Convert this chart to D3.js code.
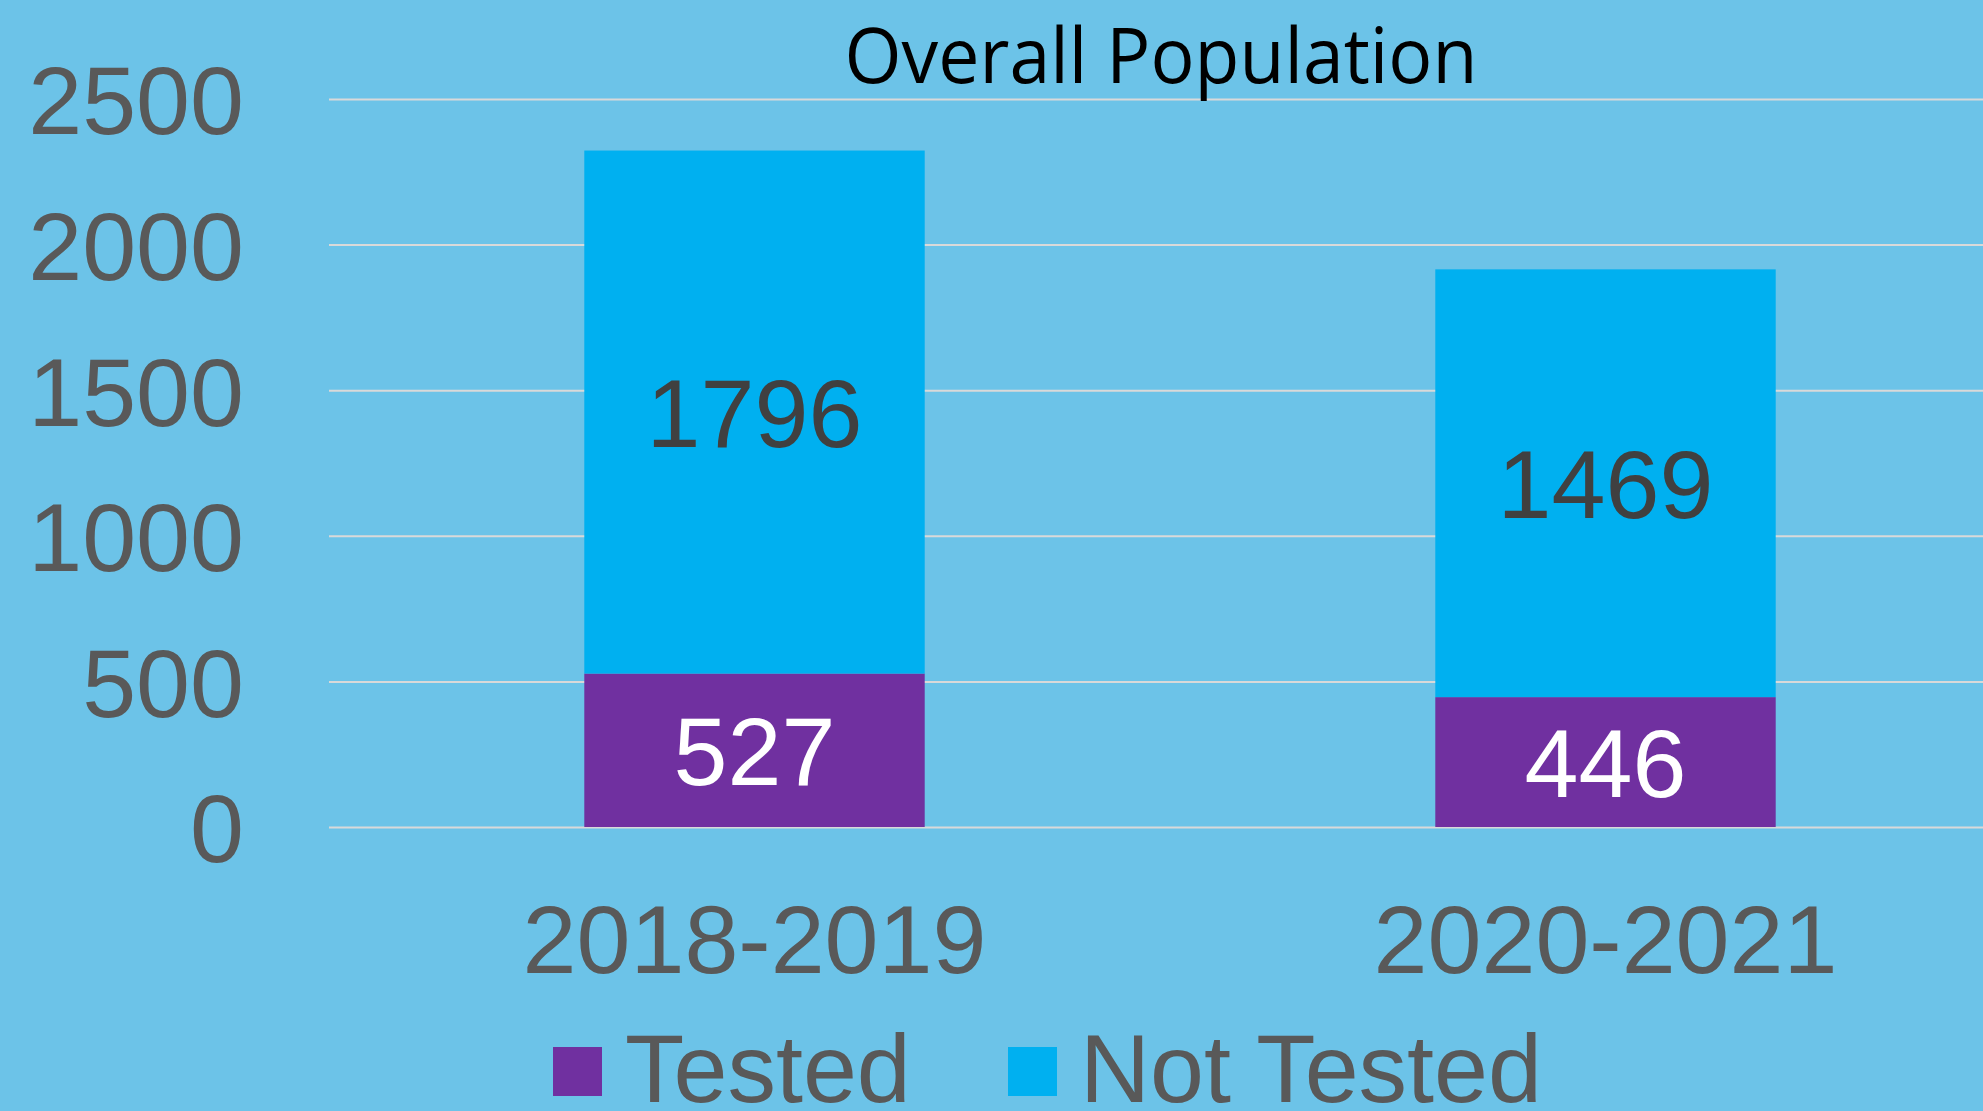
<!DOCTYPE html>
<html>
<head>
<meta charset="utf-8">
<script src="https://cdn.jsdelivr.net/npm/d3@7"></script>
<style>
  html, body { margin: 0; padding: 0; background: #6cc3e8; overflow: hidden; }
  text { font-family: "Liberation Sans", Arial, sans-serif; }
</style>
</head>
<body>
<div id="chart"></div>
<script>
// data
const categories = ["2018-2019", "2020-2021"];
const seriesNames = ["Tested", "Not Tested"];
const testedValues = [527, 446];
const notTestedValues = [1796, 1469];
const yTickValues = [0, 500, 1000, 1500, 2000, 2500];

const seriesColors = { "Tested": "#7030a0", "Not Tested": "#00b0f0" };
const labelColors = { "Tested": "#ffffff", "Not Tested": "#404040" };

let width = 1983, height = 1111;
let margin = { top: 99, bottom: 284, left: 329 };

let svg = d3.select("#chart")
  .append("svg")
  .attr("width", width)
  .attr("height", height);

svg.append("rect")
  .attr("width", width)
  .attr("height", height)
  .attr("fill", "#6cc3e8");

// rows for the stack
let rows = categories.map((c, i) => ({
  category: c,
  "Tested": testedValues[i],
  "Not Tested": notTestedValues[i]
}));
let stacked = d3.stack().keys(seriesNames)(rows);

// scales (plot area runs past the right edge, as in the original)
let x = d3.scaleBand()
  .domain(categories)
  .range([margin.left, 2031])
  .paddingInner(0.6)
  .paddingOuter(0.3);

let y = d3.scaleLinear()
  .domain([0, 2500])
  .range([height - margin.bottom, margin.top]);

// gridlines + y labels
let yAxis = d3.axisLeft(y)
  .tickValues(yTickValues)
  .tickSize(-(width - margin.left))
  .tickPadding(85)
  .tickFormat(d3.format("d"));

let gy = svg.append("g")
  .attr("transform", "translate(" + margin.left + ",0)")
  .call(yAxis);
gy.select(".domain").remove();
gy.selectAll(".tick line")
  .attr("stroke", "#d9d9d9")
  .attr("stroke-width", 2);
gy.selectAll(".tick text")
  .attr("fill", "#595959")
  .style("font-size", "97px")
  .attr("dy", "0.36em");

// bars
let layer = svg.selectAll(".layer")
  .data(stacked)
  .enter()
  .append("g")
  .attr("class", "layer")
  .attr("fill", d => seriesColors[d.key]);

layer.selectAll("rect")
  .data(d => d.map(v => ({ key: d.key, v: v })))
  .enter()
  .append("rect")
  .attr("x", d => x(d.v.data.category))
  .attr("width", x.bandwidth())
  .attr("y", d => y(d.v[1]))
  .attr("height", d => y(d.v[0]) - y(d.v[1]));

// value labels in the middle of each segment
layer.selectAll(".vlabel")
  .data(d => d.map(v => ({ key: d.key, v: v })))
  .enter()
  .append("text")
  .attr("class", "vlabel")
  .attr("x", d => x(d.v.data.category) + x.bandwidth() / 2)
  .attr("y", d => (y(d.v[0]) + y(d.v[1])) / 2)
  .attr("dy", "0.36em")
  .attr("text-anchor", "middle")
  .attr("fill", d => labelColors[d.key])
  .style("font-size", "97px")
  .text(d => d.v[1] - d.v[0]);

// category labels
svg.selectAll(".catlabel")
  .data(categories)
  .enter()
  .append("text")
  .attr("class", "catlabel")
  .attr("x", d => x(d) + x.bandwidth() / 2)
  .attr("y", 973)
  .attr("text-anchor", "middle")
  .attr("fill", "#595959")
  .style("font-size", "97px")
  .text(d => d);

// title
svg.append("text")
  .attr("x", 1161)
  .attr("y", 83)
  .attr("text-anchor", "middle")
  .attr("fill", "#000000")
  .style("font-family", "'Open Sans', 'Noto Sans', sans-serif")
  .style("font-size", "76px")
  .attr("textLength", 633)
  .attr("lengthAdjust", "spacingAndGlyphs")
  .text("Overall Population");

// legend
let legendX = [553, 1008];
let legend = svg.selectAll(".legend")
  .data(seriesNames)
  .enter()
  .append("g")
  .attr("class", "legend")
  .attr("transform", (d, i) => "translate(" + legendX[i] + ",0)");

legend.append("rect")
  .attr("x", 0)
  .attr("y", 1047)
  .attr("width", 49)
  .attr("height", 49)
  .attr("fill", d => seriesColors[d]);

legend.append("text")
  .attr("x", 72)
  .attr("y", 1102)
  .attr("fill", "#595959")
  .style("font-size", "97px")
  .text(d => d);
</script>
</body>
</html>
